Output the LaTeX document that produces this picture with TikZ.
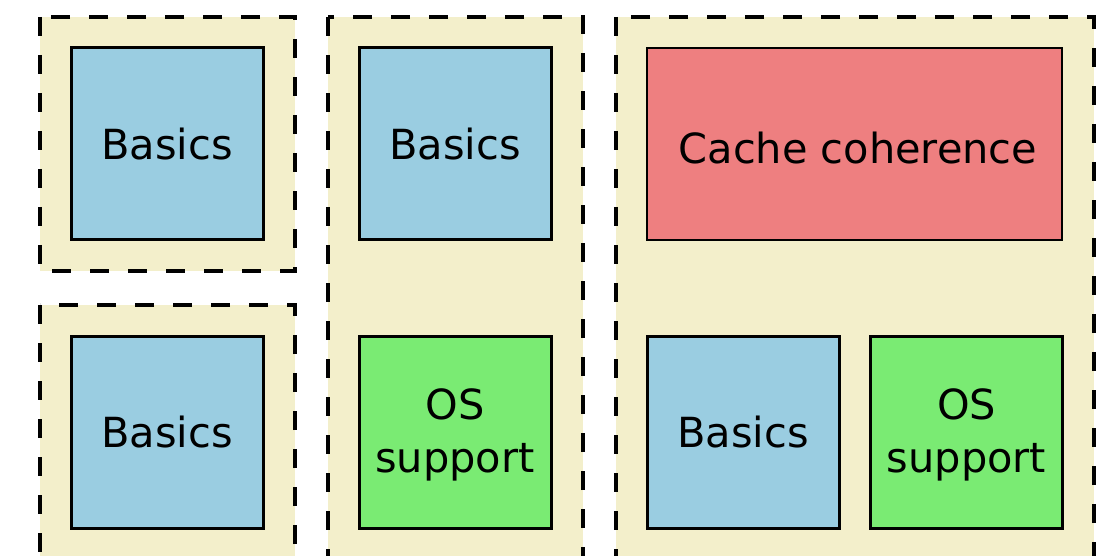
\documentclass[tikz,border=0pt]{standalone}
\usepackage{fontspec}
\setmainfont{DejaVu Sans}
\definecolor{groupfill}{RGB}{243,239,203}
\definecolor{basicsblue}{RGB}{154,205,225}
\definecolor{osgreen}{RGB}{122,235,115}
\definecolor{cachered}{RGB}{238,127,128}
\tikzset{
  group/.style={fill=groupfill, draw=black, line width=3.4pt, dash pattern=on 19pt off 19pt},
  block/.style={draw=black, line width=3pt, inner sep=0pt, minimum width=192pt, minimum height=192pt,
    align=center, font=\fontsize{41.5}{52.5}\selectfont},
  basics/.style={block, fill=basicsblue},
  ossup/.style={block, fill=osgreen},
  cache/.style={block, fill=cachered, line width=1.6pt, minimum width=415pt},
  label/.style={inner sep=0pt, font=\fontsize{41.5}{52.5}\selectfont},
  twoline/.style={inner sep=0pt, align=center, font=\fontsize{41.5}{52.5}\selectfont}
}
\begin{document}
\begin{tikzpicture}[x=1pt, y=-1pt]
  \useasboundingbox (0,0) rectangle (1101,556);
  \clip (0,0) rectangle (1101,556);

  % dashed groups
  \draw[group] (40,17) rectangle (295,271);
  \draw[group] (40,305) rectangle (295,620);
  \draw[group] (328,17) rectangle (583,620);
  \draw[group] (616,17) rectangle (1094,620);

  % first column
  \node[basics] (basicsA) at (167,144) {Basics};
  \node[basics] (basicsB) at (167,432) {Basics};

  % second column
  \node[basics] (basicsC) at (455,144) {Basics};
  \node[ossup] (osA) at (455,432) {};
  \node[twoline] (osAtext) at (455,435) {OS\\support};

  % third column
  \node[cache] (cache) at (854.5,144) {};
  \node[label] (cachetext) at (858,148) {Cache coherence};
  \node[basics] (basicsD) at (743,432) {Basics};
  \node[ossup] (osB) at (966.5,432) {};
  \node[twoline] (osBtext) at (966.5,435) {OS\\support};
\end{tikzpicture}
\end{document}
